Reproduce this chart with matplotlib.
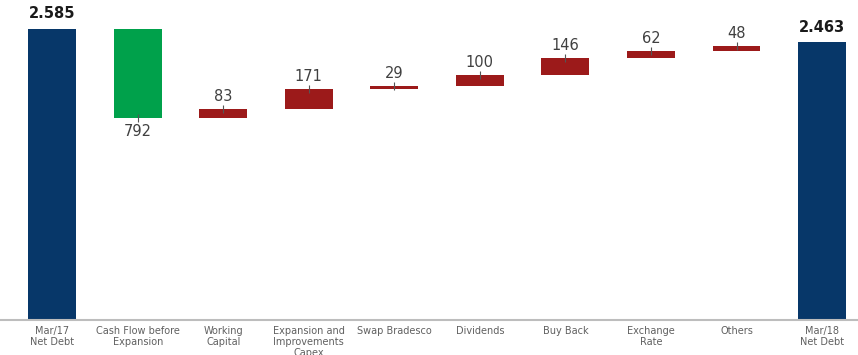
import numpy as np
import matplotlib.pyplot as plt

categories = ["Mar/17\nNet Debt", "Cash Flow before\nExpansion", "Working\nCapital",
              "Expansion and\nImprovements\nCapex", "Swap Bradesco", "Dividends",
              "Buy Back", "Exchange\nRate", "Others", "Mar/18\nNet Debt"]
start_total = 2585
end_total = 2463
changes = [-792, 83, 171, 29, 100, 146, 62, 48]
total_labels = ["2.585", "2.463"]

navy = "#073769"
green = "#00a14b"
red = "#9c1a1a"

fig = plt.figure(figsize=(8.58, 3.55), dpi=100)
ax = fig.add_axes([0, 35 / 355, 1, 320 / 355])

x = np.arange(len(categories))
w = 0.56

# totals
ax.bar(x[0], start_total, width=w, color=navy)
ax.bar(x[-1], end_total, width=w, color=navy)
ax.text(x[0], start_total + 70, total_labels[0], ha="center", va="bottom",
        fontsize=10.5, fontweight="bold", color="#1a1a1a")
ax.text(x[-1], end_total + 70, total_labels[1], ha="center", va="bottom",
        fontsize=10.5, fontweight="bold", color="#1a1a1a")

# floating bars
level = start_total
for i, d in enumerate(changes, start=1):
    bottom = level + min(d, 0)
    top = level + max(d, 0)
    col = green if d < 0 else red
    ax.bar(x[i], top - bottom, bottom=bottom, width=w, color=col)
    if d < 0:
        ax.vlines(x[i], bottom - 35, bottom + 35, color="#555555", lw=0.8)
        ax.text(x[i], bottom - 50, str(abs(d)), ha="center", va="top",
                fontsize=10.5, color="#404040")
    else:
        ax.vlines(x[i], top - 35, top + 35, color="#555555", lw=0.8)
        ax.text(x[i], top + 45, str(abs(d)), ha="center", va="bottom",
                fontsize=10.5, color="#404040")
    level += d

ax.set_xlim(-0.61, 9.42)
ax.set_ylim(0, 2840)
ax.set_yticks([])
ax.set_xticks(x)
ax.set_xticklabels(categories, fontsize=7, color="#606060", linespacing=1.15)
ax.tick_params(axis="x", length=0, pad=4)
for s in ["top", "right", "left"]:
    ax.spines[s].set_visible(False)
ax.spines["bottom"].set_color("#bdbdbd")
ax.spines["bottom"].set_linewidth(1.5)

fig.savefig("out.png", dpi=100)
